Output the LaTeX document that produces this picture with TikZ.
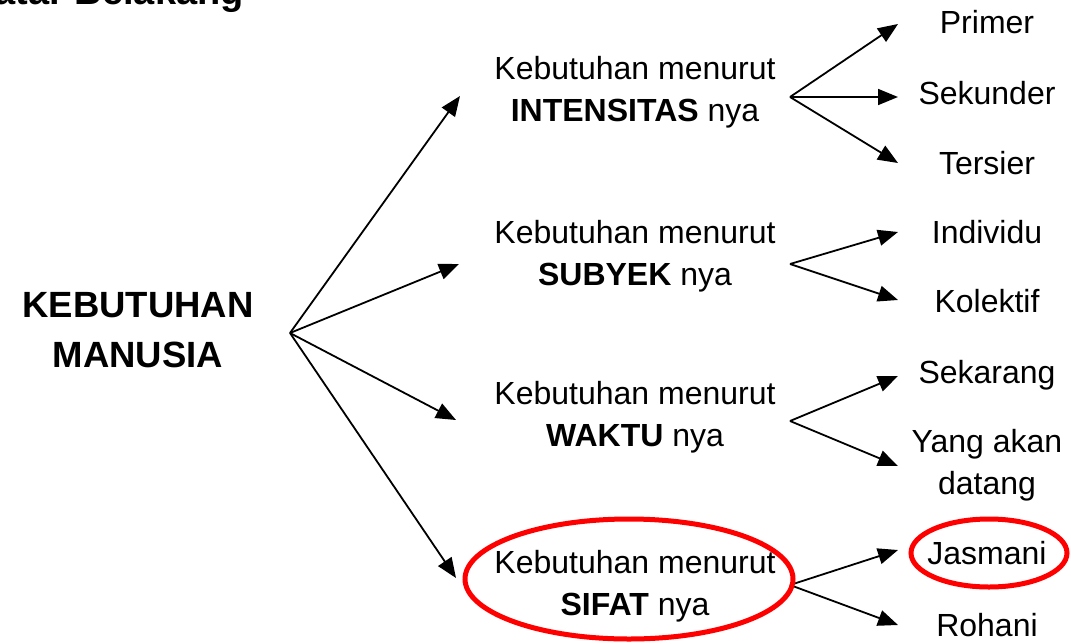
\documentclass[tikz,border=0pt]{standalone}
\usepackage{fontspec}
\setmainfont{Liberation Sans}
\usetikzlibrary{arrows.meta, positioning}

\begin{document}
\begin{tikzpicture}[x=1pt,y=-1pt,
    teks/.style={font=\fontsize{32}{42}\selectfont, align=center, inner sep=0pt},
    panah/.style={-{Triangle[length=20pt,width=16pt]}, line width=1.8pt},
    tanda/.style={draw=red, line width=5pt}]

            \useasboundingbox (0,0) rectangle (1071,643);

            % Judul (terpotong di atas)
            \node[anchor=base east, inner sep=0pt, font=\fontsize{38}{42}\selectfont\bfseries] (judul) at (244,4) {Latar Belakang};

            % Akar
            \node[inner sep=0pt, align=center, font=\fontsize{36.5}{50}\selectfont\bfseries] (akar) at (138,330) {KEBUTUHAN\\MANUSIA};
            \coordinate (cabang) at (290,333);

            % Kebutuhan menurut ...
            \node[teks] (intensitas) at (635,92.5) {Kebutuhan menurut\\\textbf{INTENSITAS} nya};
            \node[teks] (subyek) at (635,256.5) {Kebutuhan menurut\\\textbf{SUBYEK} nya};
            \node[teks] (waktu) at (635,417.5) {Kebutuhan menurut\\\textbf{WAKTU} nya};
            \node[teks] (sifat) at (635,586.5) {Kebutuhan menurut\\\textbf{SIFAT} nya};

            % Ujung panah dari akar
            \coordinate (ke1) at (460,96);
            \coordinate (ke2) at (459,264);
            \coordinate (ke3) at (456,420);
            \coordinate (ke4) at (456,578);
            \foreach \i in {1,...,4}
                \draw[panah] (cabang) -- (ke\i);

            % Titik cabang kanan
            \coordinate (c1) at (790,97);
            \coordinate (c2) at (790,264);
            \coordinate (c3) at (790,421);
            \coordinate (c4) at (790,585);

            % Daun
            \node[teks, anchor=base] (primer) at (987,33.5) {Primer};
            \node[teks, anchor=base] (sekunder) at (987,104.5) {Sekunder};
            \node[teks, anchor=base] (tersier) at (987,174.5) {Tersier};
            \node[teks, anchor=base] (individu) at (987,243.5) {Individu};
            \node[teks, anchor=base] (kolektif) at (987,312.5) {Kolektif};
            \node[teks, anchor=base] (sekarang) at (987,383.5) {Sekarang};
            \node[teks, anchor=north] (datang) at (987,429) {Yang akan\\datang};
            \node[teks, anchor=base] (jasmani) at (987,564.5) {Jasmani};
            \node[teks, anchor=base] (rohani) at (987,636.5) {Rohani};

            % Panah ke daun
            \coordinate (d1) at (898,24);
            \coordinate (d2) at (898,97);
            \coordinate (d3) at (898,163);
            \coordinate (d4) at (898,232);
            \coordinate (d5) at (898,300);
            \coordinate (d6) at (898,376);
            \coordinate (d7) at (898,466);
            \coordinate (d8) at (898,550);
            \coordinate (d9) at (898,625);
            \draw[panah] (c1) -- (d1);
            \draw[panah] (c1) -- (d2);
            \draw[panah] (c1) -- (d3);
            \draw[panah] (c2) -- (d4);
            \draw[panah] (c2) -- (d5);
            \draw[panah] (c3) -- (d6);
            \draw[panah] (c3) -- (d7);
            \draw[panah] (c4) -- (d8);
            \draw[panah] (c4) -- (d9);

            % Lingkaran merah
            \draw[tanda] (629,579) ellipse [x radius=164, y radius=60];
            \draw[tanda] (989,553) ellipse [x radius=78, y radius=34];

\end{tikzpicture}
\end{document}
